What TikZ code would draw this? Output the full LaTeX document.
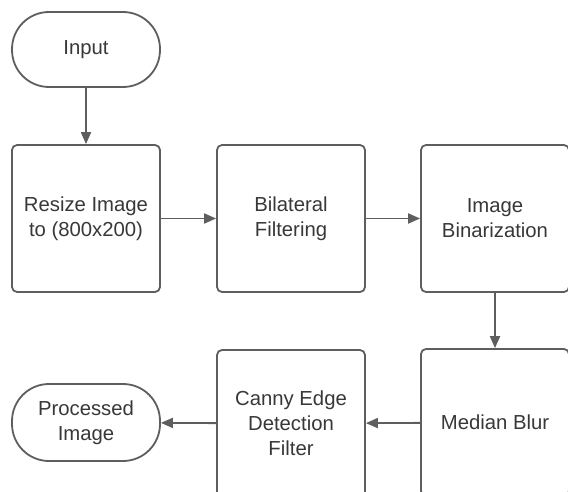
\documentclass[tikz,border=0pt]{standalone}
\usepackage{fontspec}
\setmainfont{Liberation Sans}
\usetikzlibrary{arrows.meta}
\definecolor{figLine}{RGB}{94,94,94}
\definecolor{figText}{RGB}{56,56,56}
\tikzset{
  procbox/.style={draw=figLine, line width=1.8pt, fill=white, rounded corners=5pt,
    minimum width=148pt, minimum height=147pt, align=center, inner sep=2pt},
  termbox/.style={draw=figLine, line width=1.8pt, fill=white, rounded corners=37pt,
    minimum width=148pt, minimum height=75pt, align=center, inner sep=2pt},
  flow/.style={-{Triangle[length=12pt, width=10pt]}, line width=1.8pt, figLine}
}
\begin{document}
\begin{tikzpicture}[x=1pt, y=-1pt, every node/.style={font=\fontsize{20.3}{25}\selectfont, text=figText}]
\fill[white] (0,0) rectangle (568,492);
\useasboundingbox (0,0) rectangle (568,492);
% terminals
\node[termbox] (input) at (86,49.5) {Input};
\node[termbox, minimum height=77pt] (output) at (86,422.5) {Processed\\Image};
% process boxes
\node[procbox] (resize) at (86,218.5) {Resize Image\\to (800x200)};
\node[procbox] (bilat) at (291,218.5) {Bilateral\\Filtering};
\node[procbox] (binar) at (495,218.5) {Image\\Binarization};
\node[procbox] (median) at (495,422.5) {Median Blur};
\node[procbox] (canny) at (291,423.5) {Canny Edge\\Detection\\Filter};
% connectors
\draw[flow] (input) -- (resize);
\draw[flow] (resize) -- (bilat);
\draw[flow] (bilat) -- (binar);
\draw[flow] (binar) -- (median);
\draw[flow] (median) -- (canny);
\draw[flow] (canny) -- (output);
\end{tikzpicture}
\end{document}
